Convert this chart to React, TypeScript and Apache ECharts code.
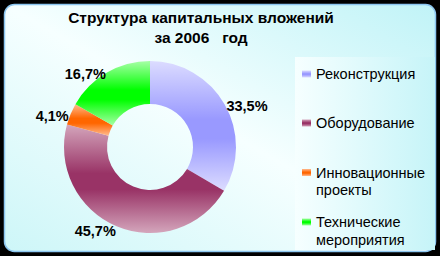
import React, { useEffect, useRef } from "react";
import * as echarts from "echarts";

const titleLines = ["Структура капитальных вложений", "за 2006   год"];
const categories = ["Реконструкция", "Оборудование", "Инновационные проекты", "Технические мероприятия"];
const legendLines = [["Реконструкция"], ["Оборудование"], ["Инновационные", "проекты"], ["Технические", "мероприятия"]];
const values = [33.5, 45.7, 4.1, 16.7];
const labels = ["33,5%", "45,7%", "4,1%", "16,7%"];
const lightColors = ["#dcdcff", "#d4a6bc", "#ffbb90", "#a6ffa6"];
const darkColors = ["#9999ff", "#993366", "#ff6600", "#00ff00"];

const FONT = "Liberation Sans, Arial, sans-serif";

const grad = (light: string, dark: string) =>
  new echarts.graphic.LinearGradient(0, 0, 0, 1, [
    { offset: 0, color: light },
    { offset: 0.45, color: dark },
    { offset: 0.6, color: dark },
    { offset: 1, color: light },
  ]);

export default function App() {
  const ref = useRef<HTMLDivElement>(null);
  useEffect(() => {
    if (!ref.current) return;
    const chart = echarts.init(ref.current, null, { renderer: "svg" });
    const firstLineCenters = [74, 123, 172.5, 222];
    const lineGap = 17.5;
    const legends: any[] = [];
    categories.forEach((name, i) => {
      legendLines[i].forEach((line, j) => {
        legends.push({
          data: [name],
          orient: "vertical",
          left: 302,
          top: firstLineCenters[i] + j * lineGap - 8.5,
          padding: 0,
          itemWidth: 9,
          itemHeight: 7,
          icon: j === 0 ? "rect" : "none",
          selectedMode: false,
          formatter: () => line,
          textStyle: {
            fontFamily: FONT,
            fontSize: 14.5,
            color: "#000",
            lineHeight: 17,
          },
        });
      });
    });
    chart.setOption({
      animation: false,
      backgroundColor: "#000",
      graphic: [
        {
          type: "rect",
          z: -10,
          shape: { x: 4.5, y: 4.5, width: 431, height: 247, r: 10 },
          style: {
            fill: new echarts.graphic.LinearGradient(0, 1, 1, 0, [
              { offset: 0, color: "#cdf6f8" },
              { offset: 0.5, color: "#f6ffff" },
              { offset: 1, color: "#c0f3f7" },
            ]),
            stroke: "#8cc6f0",
            lineWidth: 1.5,
          },
        },
        {
          type: "rect",
          z: -9,
          shape: { x: 295, y: 57, width: 140, height: 193 },
          style: {
            fill: new echarts.graphic.LinearGradient(0, 0, 1, 0, [
              { offset: 0, color: "#f6ffff" },
              { offset: 1, color: "#c6f4f8" },
            ]),
          },
        },
        {
          type: "text",
          x: 201,
          y: 7,
          style: {
            text: titleLines.join("\n"),
            align: "center",
            verticalAlign: "top",
            fontFamily: FONT,
            fontWeight: "bold",
            fontSize: 15.5,
            lineHeight: 20,
            fill: "#000",
          },
        },
      ],
      legend: legends,
      series: [
        {
          type: "pie",
          center: [150, 147],
          radius: [43, 86],
          startAngle: 90,
          clockwise: true,
          avoidLabelOverlap: false,
          label: {
            show: true,
            position: "outside",
            formatter: (p: any) => labels[p.dataIndex],
            fontFamily: FONT,
            fontWeight: "bold",
            fontSize: 14.5,
            color: "#000",
            distanceToLabelLine: 0,
            offset: [0, 3],
          },
          labelLine: { show: false, length: 2, length2: 0 },
          emphasis: { disabled: true },
          data: categories.map((name, i) => ({
            name,
            value: values[i],
            itemStyle: { color: grad(lightColors[i], darkColors[i]) },
          })),
        },
      ],
    });
    return () => chart.dispose();
  }, []);
  return (
    <div
      ref={ref}
      style={{ position: "fixed", left: 0, top: 0, width: 440, height: 256 }}
    />
  );
}
